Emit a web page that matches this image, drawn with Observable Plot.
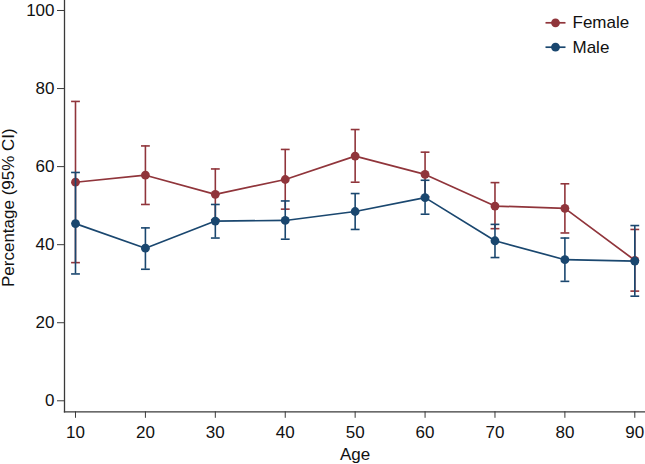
<!DOCTYPE html>
<html>
<head>
<meta charset="utf-8">
<script src="https://cdn.jsdelivr.net/npm/d3@7"></script>
<script src="https://cdn.jsdelivr.net/npm/@observablehq/plot@0.6"></script>
<style>
  html, body { margin: 0; padding: 0; background: #fff; }
  #chart { width: 645px; height: 464px; }
</style>
</head>
<body>
<div id="chart"></div>
<script>
const ages = [10, 20, 30, 40, 50, 60, 70, 80, 90];
const seriesNames = ["Female", "Male"];
const seriesColors = ["#90353b", "#1a476f"];
const femalePct = [56.0, 57.8, 52.9, 56.7, 62.7, 58.0, 49.9, 49.3, 36.0];
const femaleLo  = [35.4, 50.3, 46.4, 49.1, 56.0, 52.3, 44.1, 43.0, 28.1];
const femaleHi  = [76.7, 65.3, 59.4, 64.4, 69.5, 63.7, 55.9, 55.6, 43.9];
const malePct   = [45.4, 39.1, 46.05, 46.2, 48.5, 52.05, 41.0, 36.15, 35.8];
const maleLo    = [32.5, 33.7, 41.7, 41.4, 43.9, 47.8, 36.7, 30.6, 26.8];
const maleHi    = [58.5, 44.3, 50.3, 51.2, 53.1, 56.5, 45.2, 41.7, 44.9];
const yTicks = [0, 20, 40, 60, 80, 100];
const xTicks = [10, 20, 30, 40, 50, 60, 70, 80, 90];

const seriesData = [
  ages.map((a, i) => ({age: a, pct: femalePct[i], lo: femaleLo[i], hi: femaleHi[i]})),
  ages.map((a, i) => ({age: a, pct: malePct[i], lo: maleLo[i], hi: maleHi[i]}))
];

const capSymbol = {draw(ctx) { ctx.moveTo(-4.4, 0); ctx.lineTo(4.4, 0); }};
const legendLine = {draw(ctx) { ctx.moveTo(-10, 0); ctx.lineTo(10, 0); }};

const marks = [
  Plot.frame({anchor: "left", stroke: "#3a3a3a", strokeWidth: 1.3}),
  Plot.frame({anchor: "bottom", stroke: "#3a3a3a", strokeWidth: 1.3}),
  Plot.axisY({ticks: yTicks, tickSize: 7, tickPadding: 3, label: null, stroke: "#3a3a3a", fill: "#111"}),
  Plot.axisX({ticks: xTicks, tickSize: 6.5, tickPadding: 7.7, label: null, stroke: "#3a3a3a", fill: "#111"}),
  Plot.text(["Percentage (95% CI)"], {frameAnchor: "left", rotate: -90, dx: -56, dy: 1.5, textAnchor: "middle", lineAnchor: "middle", fill: "#111", fontSize: 17}),
  Plot.text(["Age"], {frameAnchor: "bottom", dy: 42.5, textAnchor: "middle", lineAnchor: "middle", fill: "#111", fontSize: 17})
];

seriesData.forEach((data, s) => {
  const c = seriesColors[s];
  marks.push(
    Plot.ruleX(data, {x: "age", y1: "lo", y2: "hi", stroke: c, strokeWidth: 1.6}),
    Plot.dot(data, {x: "age", y: "lo", symbol: capSymbol, stroke: c, fill: "none", strokeWidth: 1.6}),
    Plot.dot(data, {x: "age", y: "hi", symbol: capSymbol, stroke: c, fill: "none", strokeWidth: 1.6}),
    Plot.line(data, {x: "age", y: "pct", stroke: c, strokeWidth: 1.7}),
    Plot.dot(data, {x: "age", y: "pct", r: 4.4, fill: c, stroke: "none"})
  );
});

// legend inside the frame (top-right)
seriesNames.forEach((name, s) => {
  const c = seriesColors[s];
  const dy = 22.3 + s * 24.4;
  marks.push(
    Plot.dot([name], {frameAnchor: "top-right", dx: -90, dy, symbol: legendLine, stroke: c, fill: "none", strokeWidth: 1.7}),
    Plot.dot([name], {frameAnchor: "top-right", dx: -90, dy, r: 4.4, fill: c, stroke: "none"}),
    Plot.text([name], {frameAnchor: "top-right", dx: -73, dy, text: d => d, textAnchor: "start", lineAnchor: "middle", fill: "#111", fontSize: 17})
  );
});

const chart = Plot.plot({
  width: 645,
  height: 464,
  marginLeft: 64,
  marginRight: 0,
  marginTop: 0,
  marginBottom: 52.7,
  style: {fontFamily: "'Liberation Sans', Arial, sans-serif", fontSize: "17px", background: "#fff", color: "#111", overflow: "visible"},
  x: {domain: [8.427, 91.53], label: null},
  y: {domain: [-2.82, 102.56], label: null},
  marks
});
document.getElementById("chart").appendChild(chart);
</script>
</body>
</html>
